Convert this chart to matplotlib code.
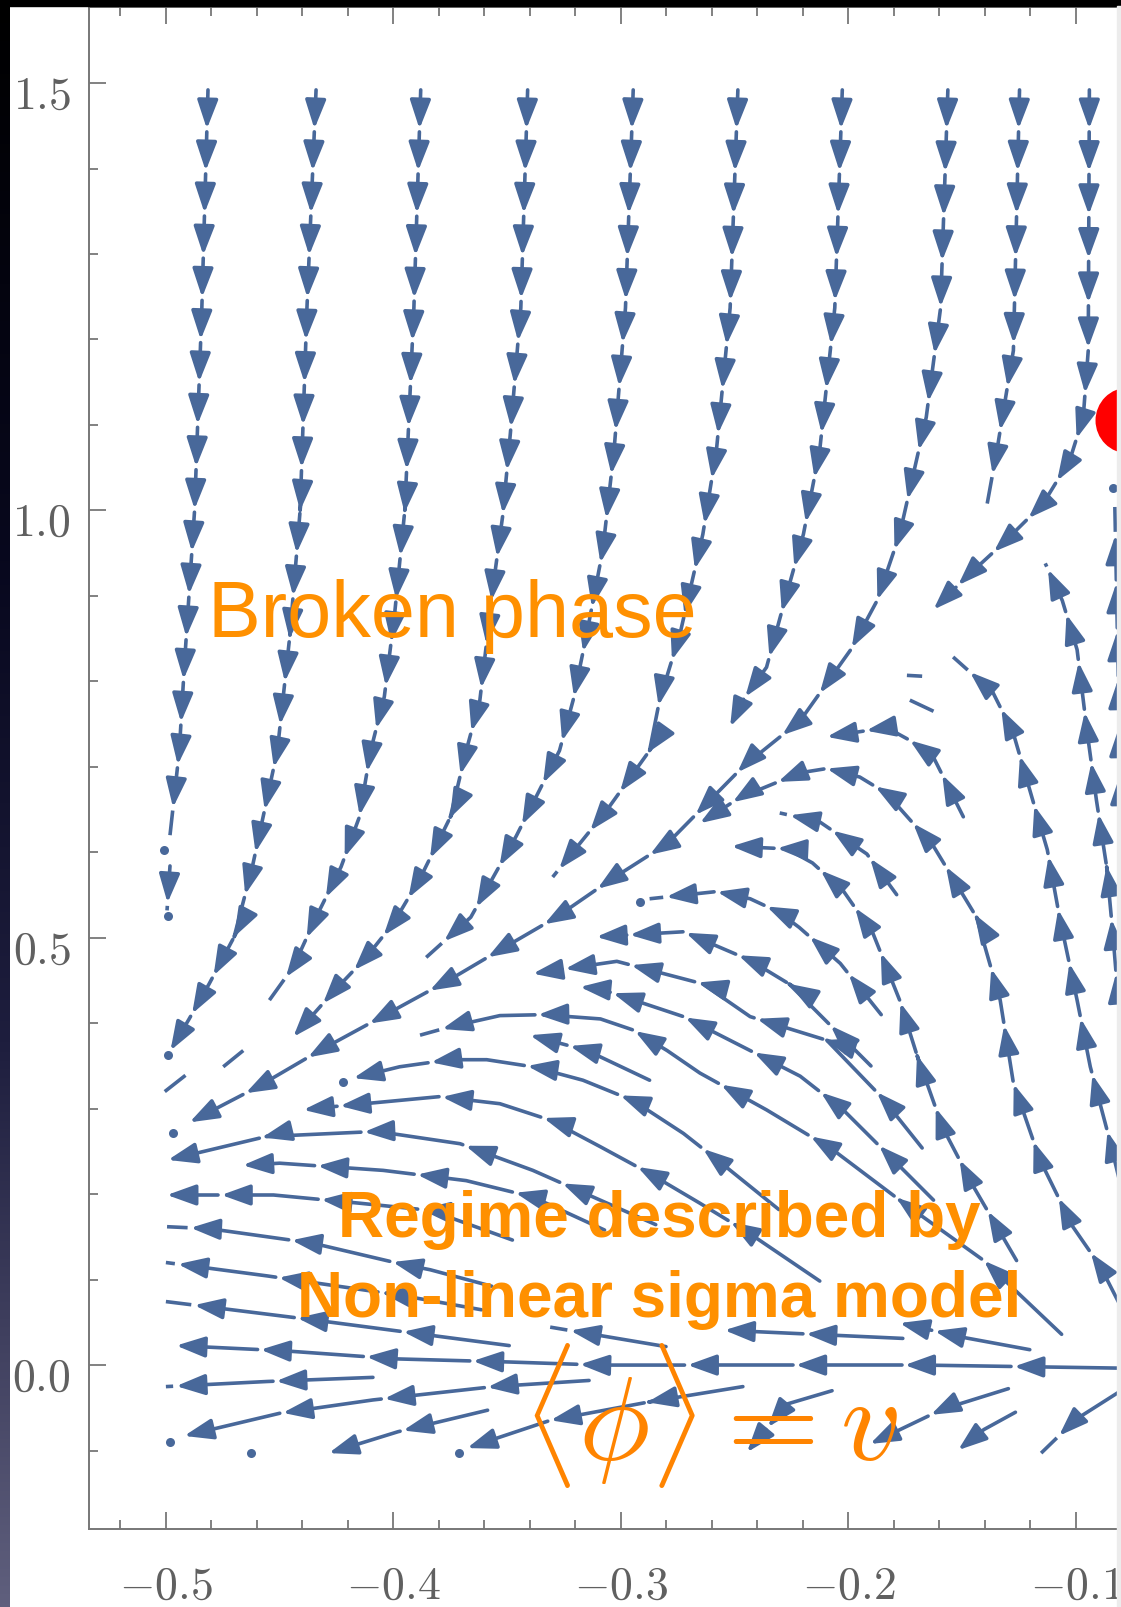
import numpy as np
import matplotlib
matplotlib.use("Agg")
import matplotlib.pyplot as plt
from matplotlib.patches import FancyArrowPatch, ArrowStyle, Rectangle
from matplotlib.path import Path
from matplotlib.ticker import MultipleLocator, FuncFormatter
from matplotlib.transforms import ScaledTranslation

plt.rcParams['mathtext.fontset'] = 'cm'

# streamlines, each one listed in the direction of the flow
# top columns falling down
falling_lines = [
    ([-0.4815, -0.4842, -0.4874, -0.4919, -0.4941, -0.4982], [1.492, 1.237, 1.000, 0.818, 0.719, 0.620]),
    ([-0.434, -0.438, -0.441, -0.4455, -0.451, -0.462, -0.470, -0.481, -0.490, -0.498],
     [1.492, 1.237, 1.000, 0.854, 0.719, 0.583, 0.501, 0.446, 0.404, 0.368]),
    ([-0.388, -0.391, -0.395, -0.3995, -0.404, -0.410, -0.415, -0.423, -0.434, -0.444, -0.4545],
     [1.492, 1.237, 1.000, 0.878, 0.782, 0.719, 0.641, 0.583, 0.524, 0.466, 0.427]),
    ([-0.341, -0.344, -0.3486, -0.352, -0.356, -0.362, -0.368, -0.375, -0.388, -0.400, -0.412, -0.427, -0.444],
     [1.492, 1.237, 1.090, 0.993, 0.915, 0.778, 0.719, 0.641, 0.571, 0.517, 0.477, 0.435, 0.384]),
    ([-0.2946, -0.298, -0.303, -0.308, -0.315, -0.321, -0.327, -0.346, -0.366, -0.3856],
     [1.492, 1.237, 1.071, 0.953, 0.856, 0.778, 0.719, 0.619, 0.524, 0.477]),
    ([-0.2486, -0.252, -0.258, -0.264, -0.274, -0.283, -0.2874, -0.306, -0.330],
     [1.492, 1.237, 1.071, 0.972, 0.856, 0.778, 0.719, 0.650, 0.571]),
    ([-0.2027, -0.206, -0.2126, -0.2198, -0.230, -0.236, -0.2464, -0.252],
     [1.492, 1.237, 1.071, 0.972, 0.875, 0.8165, 0.778, 0.747]),
    ([-0.1563, -0.1595, -0.1658, -0.1775, -0.1874, -0.199, -0.2212, -0.2464, -0.2797, -0.305, -0.3284,
      -0.3532, -0.3752, -0.4027, -0.4324, -0.460, -0.4896],
     [1.492, 1.237, 1.109, 0.972, 0.8945, 0.837, 0.754, 0.700, 0.610, 0.567, 0.524,
      0.4856, 0.451, 0.411, 0.368, 0.325, 0.284]),
    ([-0.1248, -0.1275, -0.1347, -0.139], [1.492, 1.187, 1.071, 1.008]),
    ([-0.0941, -0.0946, -0.0968, -0.1027, -0.1144, -0.132, -0.1482, -0.1626],
     [1.492, 1.187, 1.109, 1.059, 1.008, 0.9616, 0.922, 0.884]),
    ([-0.4982, -0.4995], [0.584, 0.532]),
    ([-0.4914, -0.5005], [0.339, 0.320]),
    ([-0.466, -0.4748], [0.368, 0.349]),
]
falling_steps = [(42, 43), (42, 44), (42, 45), (42, 46), (42, 48), (42, 50), (42, 48), (42, 75),
                 (42, 45), (42, 50), (40, 40), (40, 40), (40, 40)]

# columns on the right rising toward the fixed point
rising_lines = [
    ([-0.0802, -0.0815, -0.0829], [0.638, 0.818, 1.004]),
    ([-0.0802, -0.082, -0.0838, -0.0865, -0.091, -0.095, -0.0995, -0.106, -0.1135],
     [0.398, 0.447, 0.505, 0.583, 0.661, 0.739, 0.837, 0.8945, 0.938]),
    ([-0.0802, -0.0851, -0.0937, -0.0995, -0.1072, -0.1126, -0.119, -0.1275, -0.1365, -0.154],
     [0.2086, 0.2626, 0.349, 0.427, 0.524, 0.603, 0.661, 0.739, 0.787, 0.8285]),
]
rising_steps = [(48, 48), (55, 48), (60, 48)]

# arches that rise on the right and turn left
arch_lines = [
    ([-0.1495, -0.1626, -0.173, -0.1833, -0.2095], [0.6415, 0.711, 0.731, 0.746, 0.735]),
    ([-0.0802, -0.0892, -0.1014, -0.1158, -0.1275, -0.1333, -0.1437, -0.1626, -0.1833, -0.195, -0.2095,
      -0.2212, -0.2477, -0.2653],
     [0.068, 0.115, 0.162, 0.240, 0.330, 0.427, 0.524, 0.607, 0.669, 0.688, 0.698, 0.693, 0.664, 0.634]),
    ([-0.1788, -0.1919, -0.2126, -0.2302], [0.5504, 0.598, 0.6355, 0.646]),
    ([-0.1261, -0.145, -0.1586, -0.1698, -0.1775, -0.1892, -0.2023, -0.2158, -0.227, -0.2514],
     [0.1223, 0.2086, 0.278, 0.362, 0.427, 0.505, 0.555, 0.5875, 0.604, 0.607]),
    ([-0.1856, -0.2036, -0.2216, -0.2306, -0.2432, -0.2581, -0.2874],
     [0.410, 0.470, 0.512, 0.530, 0.5456, 0.554, 0.5456]),
    ([-0.1901, -0.2081, -0.2261, -0.2432, -0.2725, -0.3108], [0.350, 0.398, 0.446, 0.4736, 0.507, 0.501]),
    ([-0.1676, -0.1856, -0.2095, -0.2432, -0.264, -0.3018, -0.3387],
     [0.254, 0.314, 0.380, 0.4077, 0.446, 0.4724, 0.458]),
    ([-0.1626, -0.1815, -0.2023, -0.2212, -0.2432, -0.2725, -0.309, -0.318],
     [0.193, 0.2434, 0.2986, 0.338, 0.368, 0.4077, 0.440, 0.4424]),
    ([-0.1063, -0.1405, -0.1775, -0.2068, -0.236, -0.2653, -0.2797, -0.2946, -0.309, -0.3342, -0.3532,
      -0.3752, -0.3883],
     [0.036, 0.1223, 0.193, 0.2518, 0.2986, 0.3417, 0.368, 0.392, 0.405, 0.410, 0.4089, 0.3957, 0.386]),
    ([-0.2874, -0.3149, -0.340], [0.3333, 0.368, 0.386]),
    ([-0.2306, -0.2536, -0.2725, -0.2946, -0.3167, -0.3387, -0.359, -0.3752, -0.3973, -0.4176],
     [0.182, 0.2314, 0.271, 0.3094, 0.3333, 0.349, 0.3573, 0.3573, 0.349, 0.3357]),
    ([-0.2126, -0.2432, -0.2653, -0.2874, -0.309, -0.3311, -0.3532, -0.3797, -0.4279, -0.4396],
     [0.0983, 0.1535, 0.1894, 0.2242, 0.2554, 0.2866, 0.3058, 0.3141, 0.302, 0.2986]),
    ([-0.2847, -0.3387, -0.3707, -0.4072, -0.4559, -0.4991], [0.1643, 0.2278, 0.259, 0.2734, 0.2674, 0.240]),
    ([-0.3072, -0.3387, -0.368, -0.4045, -0.450, -0.4662], [0.158, 0.1966, 0.2158, 0.2278, 0.2362, 0.2338]),
    ([-0.3477, -0.3838, -0.4149, -0.4527, -0.4995], [0.1463, 0.181, 0.1894, 0.199, 0.199]),
    ([-0.3568, -0.3838, -0.3973, -0.4356, -0.4806, -0.4995], [0.0923, 0.1115, 0.1187, 0.1427, 0.1595, 0.1619]),
]
arch_steps = [(50, 45), (65, 48), (48, 45), (60, 48), (55, 50), (60, 55), (75, 65), (80, 75),
              (110, 95), (90, 90), (100, 95), (110, 100), (105, 100), (100, 100), (100, 100), (105, 100)]

# nearly flat lines around phi = v
flat_lines = [
    ([-0.3613, -0.3964, -0.4554, -0.500], [0.0647, 0.0815, 0.1043, 0.120]),
    ([-0.3491, -0.4351, -0.500], [0.0228, 0.0528, 0.0743]),
    ([-0.0802, -0.1676, -0.2577, -0.309, -0.3491, -0.3982, -0.4486, -0.4955],
     [-0.0036, 0.0, 0.0, 0.0, 0.0036, 0.0072, 0.0168, 0.0228]),
    ([-0.1203, -0.1496, -0.1775], [0.018, 0.0324, 0.0492]),
    ([-0.1761, -0.2545], [0.0312, 0.0408]),
    ([-0.2802, -0.3311], [0.0216, 0.0444]),
]
flat_steps = [(105, 100), (110, 100), (110, 105), (100, 100), (100, 100), (100, 100)]

# lines below the axis, going down-left
lower_lines = [
    ([-0.409, -0.4554, -0.500], [-0.0144, -0.0192, -0.0252]),
    ([-0.314, -0.3559, -0.409, -0.450, -0.4937], [-0.018, -0.0252, -0.0408, -0.0564, -0.084]),
    ([-0.3586, -0.398, -0.4284], [-0.0528, -0.078, -0.103]),
    ([-0.2464, -0.2878, -0.3311, -0.3676], [-0.0252, -0.0432, -0.0647, -0.0971]),
    ([-0.2072, -0.227, -0.2446], [-0.030, -0.0456, -0.102]),
    ([-0.1297, -0.1586, -0.1905], [-0.0276, -0.0516, -0.0923]),
    ([-0.1266, -0.1405, -0.1518], [-0.0552, -0.0755, -0.0995]),
    ([-0.0802, -0.100, -0.1153], [-0.030, -0.0635, -0.103]),
]
lower_steps = [(100, 100), (105, 100), (90, 90), (100, 95), (80, 80), (85, 85), (75, 75), (80, 80)]

# short pieces with no head, and isolated seed dots
stub_lines = [
    ([-0.1743, -0.1676], [0.807, 0.806]),
    ([-0.173, -0.1626], [0.778, 0.765]),
]
dot_x = [-0.501, -0.499, -0.499, -0.4968, -0.422, -0.2914, -0.498, -0.4626, -0.371, -0.0838]
dot_y = [0.603, 0.525, 0.363, 0.271, 0.331, 0.542, -0.090, -0.103, -0.103, 1.026]

fixed_point = (-0.077, 1.1055)

BLUE = '#48689a'
ORANGE = '#ff9000'
LW = 2.6
HEAD_PX = 24
GAP = 3
astyle = ArrowStyle('-|>', head_length=17.5, head_width=6.3)

fig = plt.figure(figsize=(11.21, 16.07), dpi=100, facecolor='white')
ax = fig.add_axes([89 / 1121, 1 - 1529 / 1607, 1032 / 1121, 1522 / 1607])
ax.set_xlim(-0.5338, -0.0802)
ax.set_ylim(-0.1918, 1.589)
ax.patch.set_alpha(0)


def draw_line(xs, ys, step0, step1):
    # cut the streamline in short arrows, like Mathematica does
    pts = ax.transData.transform(np.column_stack([xs, ys]))
    d = np.hypot(*np.diff(pts, axis=0).T)
    cum = np.concatenate([[0.0], np.cumsum(d)])
    total = cum[-1]
    inv = ax.transData.inverted()
    s = 0.0
    while s < total - 3:
        step = step0 + (step1 - step0) * s / total
        e = min(s + step - GAP, total)
        inner = cum[(cum > s) & (cum < e)]
        ss = np.concatenate([[s], inner, [e]])
        seg = np.column_stack([np.interp(ss, cum, pts[:, 0]), np.interp(ss, cum, pts[:, 1])])
        seg = inv.transform(seg)
        if e - s > HEAD_PX + 4:
            ax.add_patch(FancyArrowPatch(path=Path(seg), arrowstyle=astyle, color=BLUE, lw=LW,
                                         mutation_scale=1, transform=ax.transData, zorder=2))
        else:
            ax.plot(seg[:, 0], seg[:, 1], color=BLUE, lw=LW, solid_capstyle='butt', zorder=2)
        s += step


for lines, steps in [(falling_lines, falling_steps), (rising_lines, rising_steps),
                     (arch_lines, arch_steps), (flat_lines, flat_steps), (lower_lines, lower_steps)]:
    for (xs, ys), (s0, s1) in zip(lines, steps):
        draw_line(xs, ys, s0, s1)

for xs, ys in stub_lines:
    ax.plot(xs, ys, color=BLUE, lw=LW, solid_capstyle='butt', zorder=2)
ax.plot(dot_x, dot_y, 'o', ms=6.5, color=BLUE, mew=0, zorder=2)

ax.plot([fixed_point[0]], [fixed_point[1]], 'o', ms=47.5, color='#ff0000', mew=0, clip_on=False, zorder=6)

# annotations
ax.text(-0.4815, 0.852, 'Broken phase', fontsize=57, color=ORANGE, family='Liberation Sans',
        ha='left', va='baseline', zorder=5)
ax.text(-0.2833, 0.150, 'Regime described by', fontsize=46, fontweight='bold', color=ORANGE,
        family='Liberation Sans', ha='center', va='baseline', zorder=5)
ax.text(-0.2833, 0.0564, 'Non-linear sigma model', fontsize=46, fontweight='bold', color=ORANGE,
        family='Liberation Sans', ha='center', va='baseline', zorder=5)
ax.text(-0.3435, -0.1115, r'$\langle\phi\rangle = v$', fontsize=86, color='#ff8400',
        ha='left', va='baseline', zorder=5)

# frame and ticks
def tick_fmt(v, pos):
    if abs(v) < 1e-9:
        v = 0.0
    return '$%.1f$' % v


ax.xaxis.set_major_locator(MultipleLocator(0.1))
ax.xaxis.set_minor_locator(MultipleLocator(0.02))
ax.yaxis.set_major_locator(MultipleLocator(0.5))
ax.yaxis.set_minor_locator(MultipleLocator(0.1))
ax.xaxis.set_major_formatter(FuncFormatter(tick_fmt))
ax.yaxis.set_major_formatter(FuncFormatter(tick_fmt))
ax.tick_params(which='both', direction='in', top=True, right=False, color='#777777', width=1.3,
               labelcolor='#606060', labelsize=33)
ax.tick_params(which='major', length=12)
ax.tick_params(which='minor', length=6.5)
ax.tick_params(axis='x', pad=25)
ax.tick_params(axis='y', pad=13)
for lab in ax.get_yticklabels():
    lab.set_transform(lab.get_transform() + ScaledTranslation(0, -6 / 72, fig.dpi_scale_trans))
for side in ['left', 'bottom', 'top']:
    ax.spines[side].set_color('#777777')
    ax.spines[side].set_linewidth(1.4)
ax.spines['right'].set_visible(False)

# screenshot borders: dark strip on the left, black band on top, light edge on the right
gax = fig.add_axes([0, 0, 10 / 1121, 1], zorder=5)
stops = np.array([[0, 0, 0], [8, 8, 30], [30, 30, 62], [95, 95, 125]]) / 255.0
tpos = np.linspace(0, 1, 200)
grad = np.column_stack([np.interp(tpos, [0, 0.35, 0.65, 1], stops[:, k]) for k in range(3)])
gax.imshow(grad.reshape(-1, 1, 3), aspect='auto', extent=[0, 1, 0, 1], interpolation='bilinear')
gax.axis('off')
fig.add_artist(Rectangle((0, 1 - 6 / 1607), 1, 6 / 1607, transform=fig.transFigure,
                         color='black', zorder=5))
fig.add_artist(Rectangle((1117 / 1121, 0), 4 / 1121, 1 - 6 / 1607, transform=fig.transFigure,
                         color='#ececec', zorder=7))

fig.savefig('out.png', dpi=100, facecolor='white')
